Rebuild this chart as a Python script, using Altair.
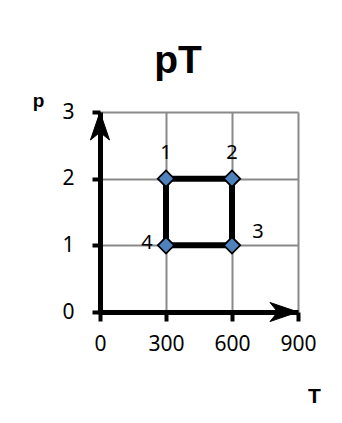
import altair as alt
import pandas as pd

# ---- data ----
T_vals = [300, 600, 600, 300]
p_vals = [2, 2, 1, 1]
point_labels = ["1", "2", "3", "4"]
label_pos = ["above", "above", "right", "left"]
cycle_order = [1, 2, 3, 4]

x_ticks = [0, 300, 600, 900]
y_ticks = [0, 1, 2, 3]

arrow_T = [0, 900]
arrow_p = [3, 0]
arrow_angle = [0, 90]

title_text = "pT"
x_title = "T"
y_title = "p"

# ---- tables ----
points = pd.DataFrame({"T": T_vals, "p": p_vals, "label": point_labels,
                       "pos": label_pos, "order": cycle_order})
cycle = pd.concat([points, points.iloc[[0]].assign(order=len(points) + 1)],
                  ignore_index=True)
arrows = pd.DataFrame({"T": arrow_T, "p": arrow_p, "angle": arrow_angle})

LABEL_FONT = "Noto Sans"
TITLE_FONT = "Liberation Sans"

X = alt.X("T:Q", scale=alt.Scale(domain=[0, 900], nice=False, zero=True),
          axis=alt.Axis(values=x_ticks, title=x_title, grid=True,
                        gridColor="#898989", gridWidth=2, gridOpacity=1,
                        domainColor="black", domainWidth=5,
                        tickColor="black", tickWidth=4, tickSize=9,
                        labelFont=LABEL_FONT, labelFontSize=21, labelColor="black",
                        labelPadding=12, labelFlush=False, labelOverlap=False,
                        titleFont=TITLE_FONT, titleFontSize=21, titleFontWeight="bold",
                        titleColor="black", titleX=214, titleY=90,
                        titleAlign="center", titleBaseline="alphabetic"))
Y = alt.Y("p:Q", scale=alt.Scale(domain=[0, 3], nice=False, zero=True),
          axis=alt.Axis(values=y_ticks, title=y_title, grid=True,
                        gridColor="#898989", gridWidth=2, gridOpacity=1,
                        domainColor="black", domainWidth=5,
                        tickColor="black", tickWidth=4, tickSize=8,
                        labelFont=LABEL_FONT, labelFontSize=21, labelColor="black",
                        labelPadding=18, labelFlush=False, labelOverlap=False,
                        titleFont=TITLE_FONT, titleFontSize=19, titleFontWeight="bold",
                        titleColor="black", titleAngle=0, titleX=-62, titleY=-6,
                        titleAlign="center", titleBaseline="alphabetic"))

line = alt.Chart(cycle).mark_line(color="black", strokeWidth=6, strokeJoin="miter").encode(
    x=X, y=Y, order="order:Q")

markers = alt.Chart(points).mark_point(
    shape="diamond", filled=True, fill="#4F81BD", stroke="black",
    strokeWidth=1.8, size=270, opacity=1).encode(x=X, y=Y)

arrow_path = "M0,0 L0.68,2 L0,1.45 L-0.68,2 Z"
heads = alt.Chart(arrows).mark_point(
    shape=arrow_path, filled=True, fill="black", stroke="black", strokeWidth=1,
    size=784, opacity=1).encode(x=X, y=Y, angle=alt.Angle("angle:Q", scale=None))

txt = dict(font=LABEL_FONT, fontSize=20, color="black", baseline="middle")
lab_above = alt.Chart(points).transform_filter(alt.datum.pos == "above").mark_text(
    align="center", dy=-26, **txt).encode(x=X, y=Y, text="label:N")
lab_right = alt.Chart(points).transform_filter(alt.datum.pos == "right").mark_text(
    align="center", dx=26, dy=-13, **txt).encode(x=X, y=Y, text="label:N")
lab_left = alt.Chart(points).transform_filter(alt.datum.pos == "left").mark_text(
    align="center", dx=-19, dy=-2, **txt).encode(x=X, y=Y, text="label:N")

chart = alt.layer(line, markers, heads, lab_above, lab_right, lab_left).properties(
    width=198, height=200,
    title=alt.TitleParams(title_text, font=TITLE_FONT, fontSize=39, fontWeight="bold",
                          color="black", anchor="middle", dx=-21, dy=62, offset=33,
                          baseline="bottom"),
    autosize=alt.AutoSizeParams(type="none"),
    padding={"left": 92, "top": 104, "right": 36, "bottom": 103},
    background="white",
).configure_view(stroke=None)

chart.save("out.html", embed_options={"renderer": "svg", "actions": False})
